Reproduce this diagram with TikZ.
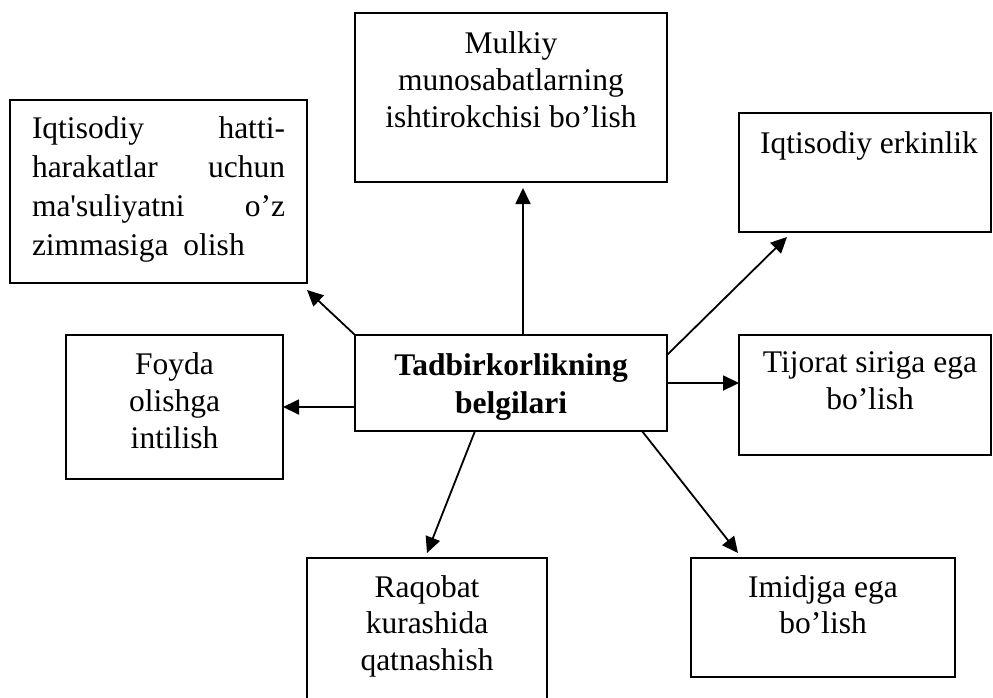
\documentclass[tikz,border=0pt]{standalone}
\usepackage{fontspec}
\setmainfont{Liberation Serif}[Ligatures=TeXOff]
\usetikzlibrary{arrows.meta}
\begin{document}
\begin{tikzpicture}[x=1pt,y=-1pt,
  box/.style={draw, line width=1.8pt, inner sep=0pt, outer sep=0pt},
  txt/.style={inner sep=0pt, outer sep=0pt, anchor=north, align=center},
  arr/.style={line width=1.8pt, -{Triangle[length=16pt,width=15pt]}}]
\useasboundingbox (0,0) rectangle (993,697);
\clip (0,0) rectangle (993,697);
% boxes
\node[box, minimum width=312pt, minimum height=169pt] (m) at (511,97.5) {};
\node[box, minimum width=297pt, minimum height=183pt] (q) at (158.5,191.5) {};
\node[box, minimum width=252pt, minimum height=119pt] (I) at (865,172.5) {};
\node[box, minimum width=312pt, minimum height=96pt] (c) at (511,383) {};
\node[box, minimum width=217pt, minimum height=144pt] (F) at (174.5,407) {};
\node[box, minimum width=252pt, minimum height=120pt] (T) at (865,395) {};
\node[box, minimum width=240pt, minimum height=152pt] (R) at (427,634) {};
\node[box, minimum width=264pt, minimum height=119pt] (Im) at (823,617.5) {};
% texts
\node[txt, font=\fontsize{31.5}{37}\selectfont] (mt) at (511,31.5)
  {Mulkiy\\munosabatlarning\\ishtirokchisi bo’lish};
\node[txt, anchor=north west, align=left, font=\fontsize{31.5}{39}\selectfont] (qt) at (32,116.5)
  {\makebox[253pt][s]{Iqtisodiy hatti-}\\
   \makebox[253pt][s]{harakatlar uchun}\\
   \makebox[253pt][s]{ma'suliyatni o’z}\\
   zimmasiga\hspace{15pt}olish};
\node[txt, font=\fontsize{31.5}{37}\selectfont] (It) at (869,131.5) {Iqtisodiy erkinlik};
\node[txt, font=\fontsize{31.5}{38}\selectfont\bfseries] (ct) at (511,353.5)
  {Tadbirkorlikning\\belgilari};
\node[txt, font=\fontsize{31.5}{37}\selectfont] (Ft) at (174.5,352.5)
  {Foyda\\olishga\\intilish};
\node[txt, font=\fontsize{31.5}{37}\selectfont] (Tt) at (870,351.5)
  {Tijorat siriga ega\\bo’lish};
\node[txt, font=\fontsize{31.5}{36.5}\selectfont] (Rt) at (427,575.5)
  {Raqobat\\kurashida\\qatnashish};
\node[txt, font=\fontsize{31.5}{36}\selectfont] (Imt) at (823,575.5)
  {Imidjga ega\\bo’lish};
% arrows
\draw[arr] ([shift={(12,0)}]c.north) -- ([shift={(12,6)}]m.south);
\draw[arr] (c.north west) -- ([shift={(0,7)}]q.south east);
\draw[arr] ([shift={(0,20)}]c.north east) -- ([shift={(48,5)}]I.south west);
\draw[arr] (c.east) -- (T.west |- c.east);
\draw[arr] ([shift={(0,24)}]c.west) -- (F.east);
\draw[arr] ([shift={(-36,0)}]c.south) -- ([shift={(0,-5)}]R.north);
\draw[arr] ([shift={(131,0)}]c.south) -- ([shift={(47,-5)}]Im.north west);
\end{tikzpicture}
\end{document}
